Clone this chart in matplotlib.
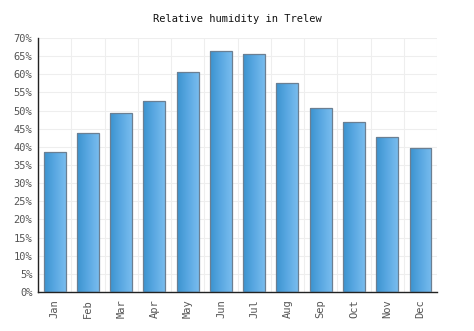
import numpy as np
import matplotlib
matplotlib.use("Agg")
import matplotlib.pyplot as plt
from matplotlib.colors import LinearSegmentedColormap

months = ["Jan", "Feb", "Mar", "Apr", "May", "Jun", "Jul", "Aug", "Sep", "Oct", "Nov", "Dec"]
humidity = [38.6, 43.7, 49.4, 52.6, 60.5, 66.3, 65.5, 57.5, 50.6, 46.7, 42.6, 39.8]
y_ticks = list(range(0, 75, 5))
y_labels = [f"{v}%" for v in y_ticks]

fig = plt.figure(figsize=(4.74, 3.31), dpi=100)
ax = fig.add_axes([0.0802, 0.1178, 0.842, 0.7677])

x = np.arange(len(months))
bars = ax.bar(x, humidity, width=0.66, facecolor="none", edgecolor="#6b7f92",
              linewidth=0.9, zorder=3)

# horizontal gradient fill inside each bar
cmap = LinearSegmentedColormap.from_list("bar", ["#3b93cf", "#5aa8e2", "#78bcee"])
grad = np.linspace(0, 1, 64).reshape(1, -1)
for b in bars:
    x0, w, h = b.get_x(), b.get_width(), b.get_height()
    im = ax.imshow(grad, cmap=cmap, aspect="auto", extent=(x0, x0 + w, 0, h),
                   zorder=2, interpolation="bilinear")
    im.set_clip_path(b)

ax.set_xlim(-0.5, len(months) - 0.5)
ax.set_ylim(0, 70)
ax.set_yticks(y_ticks)
ax.set_yticklabels(y_labels)
ax.set_xticks(x)
ax.set_xticklabels(months, rotation=90)
ax.set_xticks(np.arange(-0.5, len(months), 1), minor=True)

ax.grid(False)
ax.yaxis.grid(True, color="#eeeeee", linewidth=0.8, zorder=0)
ax.xaxis.grid(True, which="minor", color="#eeeeee", linewidth=0.8, zorder=0)

for s in ["top", "right"]:
    ax.spines[s].set_visible(False)
ax.spines["left"].set_color("#222222")
ax.spines["bottom"].set_color("#222222")
ax.spines["left"].set_linewidth(1.0)
ax.spines["bottom"].set_linewidth(1.0)

ax.tick_params(axis="both", which="both", length=0, labelsize=7.5,
               labelcolor="#555555")
ax.tick_params(axis="y", pad=4)
ax.tick_params(axis="x", pad=5)
for lab in ax.get_xticklabels() + ax.get_yticklabels():
    lab.set_family("DejaVu Sans Mono")

fig.text(0.5, 0.942, "Relative humidity in Trelew", ha="center", va="center",
         fontsize=7.5, family="DejaVu Sans Mono", color="#111111")

fig.savefig("out.png", dpi=100, facecolor="white")
